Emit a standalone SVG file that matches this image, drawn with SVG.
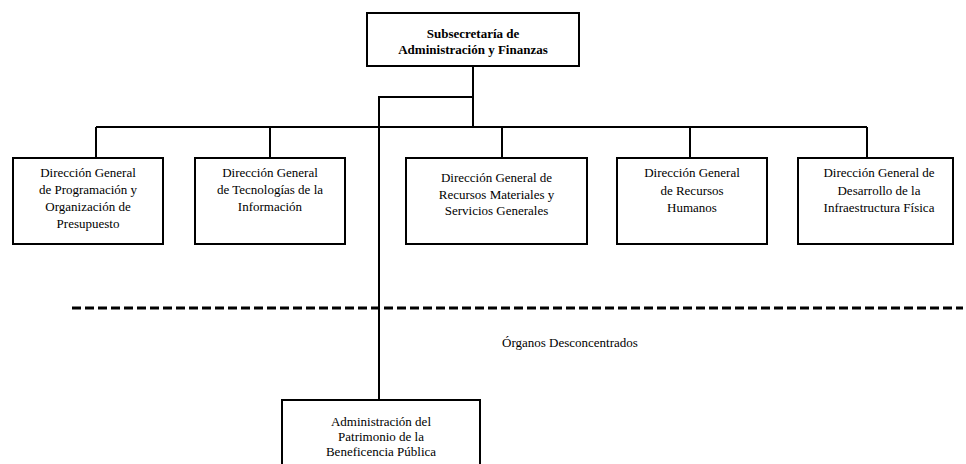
<svg xmlns="http://www.w3.org/2000/svg" width="966" height="464" viewBox="0 0 966 464">
<style>
.box{fill:#fff;stroke:#000;stroke-width:2}
.ln{stroke:#000;stroke-width:2;fill:none}
.dash{stroke:#000;stroke-width:3;stroke-dasharray:9 4;fill:none}
text{font-family:"Liberation Serif","Times New Roman",serif;font-size:13px;fill:#000;text-anchor:middle}
.b{font-weight:bold}
</style>
<rect width="966" height="464" fill="#fff"/>
<g id="connectors">
<path class="ln" d="M473 66V127M96 127H867M96 127V158M270 127V158M502 127V158M690 127V158M867 127V158M473 97H379V400"/>
<path class="dash" d="M72 308H963"/>
</g>
<g id="n0"><rect class="box" x="367" y="13" width="212" height="53"/>
<text class="b" x="473" y="37.5">Subsecretaría de</text><text class="b" x="473" y="53.5">Administración y Finanzas</text></g>
<g id="n1"><rect class="box" x="13" y="158" width="150" height="86"/>
<text x="88" y="177">Dirección General</text><text x="88" y="194">de Programación y</text><text x="88" y="211">Organización de</text><text x="88" y="227.5">Presupuesto</text></g>
<g id="n2"><rect class="box" x="195" y="158" width="150" height="86"/>
<text x="270" y="177">Dirección General</text><text x="270" y="194">de Tecnologías de la</text><text x="270" y="211">Información</text></g>
<g id="n3"><rect class="box" x="406" y="158" width="181" height="86"/>
<text x="496.5" y="182">Dirección General de</text><text x="496.5" y="199">Recursos Materiales y</text><text x="496.5" y="215">Servicios Generales</text></g>
<g id="n4"><rect class="box" x="617" y="158" width="150" height="86"/>
<text x="692" y="177">Dirección General</text><text x="692" y="195">de Recursos</text><text x="692" y="212">Humanos</text></g>
<g id="n5"><rect class="box" x="798" y="158" width="155" height="86"/>
<text x="879" y="177">Dirección General de</text><text x="879" y="195">Desarrollo de la</text><text x="879" y="212">Infraestructura Física</text></g>
<g id="label"><text x="502" y="347" style="text-anchor:start">Órganos Desconcentrados</text></g>
<g id="n6"><rect class="box" x="282" y="400" width="198" height="80"/>
<text x="381" y="426">Administración del</text><text x="381" y="441">Patrimonio de la</text><text x="381" y="456">Beneficencia Pública</text></g>
</svg>
